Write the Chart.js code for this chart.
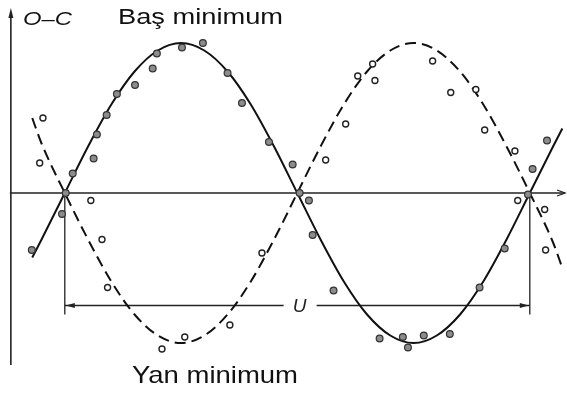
<!DOCTYPE html>
<html>
<head>
<meta charset="utf-8">
<script src="https://cdn.jsdelivr.net/npm/chart.js@4.4.1/dist/chart.umd.min.js"></script>
<style>
  html, body { margin: 0; padding: 0; background: #fff; }
</style>
</head>
<body>
<canvas id="ocChart" width="567" height="393"></canvas>
<script>
// epoch in units of the apsidal period U, O-C in units of the amplitude
const curveE = [-0.07, -0.05, 0, 0.05, 0.10, 0.15, 0.20, 0.25, 0.30, 0.35, 0.40, 0.45, 0.50,
    0.55, 0.60, 0.65, 0.70, 0.75, 0.80, 0.85, 0.90, 0.95, 1.00, 1.05, 1.07];
const primaryCurve = [-0.43, -0.31, 0, 0.31, 0.59, 0.81, 0.95, 1.00, 0.95, 0.81, 0.59, 0.31, 0,
    -0.31, -0.59, -0.81, -0.95, -1.00, -0.95, -0.81, -0.59, -0.31, 0, 0.31, 0.43];
const secondaryCurve = [0.50, 0.33, 0, -0.31, -0.59, -0.81, -0.95, -1.00, -0.95, -0.81, -0.59, -0.31, 0,
    0.31, 0.59, 0.81, 0.95, 1.00, 0.95, 0.81, 0.59, 0.31, 0, -0.33, -0.50];

// primary minima (filled)
const primaryE = [-0.071, -0.006, 0.002, 0.017, 0.062, 0.069, 0.090, 0.112, 0.151, 0.189, 0.198,
    0.252, 0.297, 0.350, 0.381, 0.439, 0.490, 0.505, 0.525, 0.533, 0.578, 0.677, 0.727, 0.738,
    0.772, 0.828, 0.892, 0.946, 0.996, 1.006, 1.037];
const primaryOC = [-0.38, -0.14, 0, 0.13, 0.23, 0.39, 0.52, 0.66, 0.72, 0.83, 0.93,
    0.97, 1.00, 0.80, 0.60, 0.34, 0.19, 0, -0.05, -0.28, -0.65, -0.97, -0.96, -1.03,
    -0.95, -0.94, -0.63, -0.37, -0.01, 0.16, 0.35];

// secondary minima (open)
const secondaryE = [-0.047, -0.054, 0.056, 0.080, 0.092, 0.209, 0.258, 0.355, 0.424, 0.561, 0.604,
    0.630, 0.662, 0.667, 0.791, 0.830, 0.884, 0.903, 0.968, 0.974, 1.032, 1.034];
const secondaryOC = [0.50, 0.20, -0.05, -0.31, -0.63, -1.04, -0.96, -0.88, -0.40, 0.22, 0.46,
    0.78, 0.86, 0.75, 0.88, 0.67, 0.69, 0.42, 0.28, -0.05, -0.11, -0.38];

const zip = (xs, ys) => xs.map((x, i) => ({ x: x, y: ys[i] }));

function arrowHead(ctx, x, y, angle, len, half, filled) {
    ctx.save();
    ctx.translate(x, y);
    ctx.rotate(angle);
    ctx.beginPath();
    ctx.moveTo(-len, -half);
    ctx.lineTo(0, 0);
    ctx.lineTo(-len, half);
    if (filled) {
        ctx.closePath();
        ctx.fill();
    } else {
        ctx.stroke();
    }
    ctx.restore();
}

// text squeezed/stretched to a given width
function fitText(ctx, text, x, y, width, font) {
    ctx.save();
    ctx.font = font;
    const w = ctx.measureText(text).width;
    ctx.translate(x, y);
    ctx.scale(width / w, 1);
    ctx.fillText(text, 0, 0);
    ctx.restore();
}

const axesPlugin = {
    id: 'ocAxes',
    beforeDatasetsDraw(chart) {
        const ctx = chart.ctx;
        const xs = chart.scales.x;
        const ys = chart.scales.y;
        const y0 = ys.getPixelForValue(0);
        const xAxis = xs.getPixelForValue(-0.116);

        ctx.save();
        ctx.strokeStyle = '#222';
        ctx.fillStyle = '#222';
        ctx.lineWidth = 1.6;

        // time axis
        ctx.beginPath();
        ctx.moveTo(xAxis - 1, y0);
        ctx.lineTo(565, y0);
        ctx.stroke();
        ctx.lineWidth = 1.3;
        arrowHead(ctx, 565, y0, 0, 8, 3, false);

        // O-C axis
        ctx.lineWidth = 1.6;
        ctx.beginPath();
        ctx.moveTo(xAxis, ys.getPixelForValue(-1.147));
        ctx.lineTo(xAxis, 14);
        ctx.stroke();
        arrowHead(ctx, xAxis, 8, -Math.PI / 2, 10, 2.5, true);

        // period U between the nodes
        const xa = xs.getPixelForValue(0);
        const xb = xs.getPixelForValue(1);
        const yDim = ys.getPixelForValue(-0.75);
        const yEnd = ys.getPixelForValue(-0.81);
        ctx.lineWidth = 1.3;
        ctx.beginPath();
        ctx.moveTo(xa, y0);
        ctx.lineTo(xa, yEnd);
        ctx.moveTo(xb, y0);
        ctx.lineTo(xb, yEnd);
        ctx.stroke();

        const xu = xs.getPixelForValue(0.505);
        ctx.beginPath();
        ctx.moveTo(xa, yDim);
        ctx.lineTo(xu - 16, yDim);
        ctx.moveTo(xu + 17, yDim);
        ctx.lineTo(xb, yDim);
        ctx.stroke();
        arrowHead(ctx, xa + 1, yDim, Math.PI, 9, 2.5, true);
        arrowHead(ctx, xb - 1, yDim, 0, 9, 2.5, true);

        ctx.font = 'italic 19px "Liberation Sans", Arial, sans-serif';
        ctx.textAlign = 'center';
        ctx.textBaseline = 'middle';
        ctx.fillText('U', xu, yDim + 1);
        ctx.restore();
    },
    afterDraw(chart) {
        const ctx = chart.ctx;
        ctx.save();
        ctx.fillStyle = '#111';
        ctx.textAlign = 'left';
        ctx.textBaseline = 'alphabetic';
        fitText(ctx, 'O–C', 23, 25, 49, 'italic 19px "Liberation Sans", Arial, sans-serif');
        fitText(ctx, 'Baş minimum', 118, 24, 165, '22px "Liberation Sans", Arial, sans-serif');
        fitText(ctx, 'Yan minimum', 132, 383, 166, '24px "Liberation Sans", Arial, sans-serif');
        ctx.restore();
    }
};

new Chart(document.getElementById('ocChart'), {
    type: 'scatter',
    data: {
        datasets: [
            {
                label: 'Baş minimum',
                data: zip(primaryE, primaryOC),
                pointRadius: 3.4,
                pointBackgroundColor: '#8c8c8c',
                pointBorderColor: '#333',
                pointBorderWidth: 1.2,
                order: 0,
            },
            {
                label: 'Yan minimum',
                data: zip(secondaryE, secondaryOC),
                pointRadius: 3,
                pointBackgroundColor: '#fff',
                pointBorderColor: '#222',
                pointBorderWidth: 1.4,
                order: 0,
            },
            {
                label: 'Baş minimum eğrisi',
                data: zip(curveE, primaryCurve),
                showLine: true,
                pointRadius: 0,
                borderColor: '#111',
                borderWidth: 2,
                cubicInterpolationMode: 'monotone',
                order: 1,
            },
            {
                label: 'Yan minimum eğrisi',
                data: zip(curveE, secondaryCurve),
                showLine: true,
                pointRadius: 0,
                borderColor: '#111',
                borderWidth: 2,
                borderDash: [11, 6],
                cubicInterpolationMode: 'monotone',
                order: 1,
            },
        ],
    },
    options: {
        responsive: false,
        animation: false,
        layout: { autoPadding: false, padding: { left: 9, right: 0, top: 13, bottom: 20 } },
        scales: {
            x: { type: 'linear', min: -0.12, max: 1.08, display: false },
            y: { type: 'linear', min: -1.2, max: 1.2, display: false },
        },
        plugins: {
            legend: { display: false },
            tooltip: { enabled: false },
        },
    },
    plugins: [axesPlugin],
});
</script>
</body>
</html>
